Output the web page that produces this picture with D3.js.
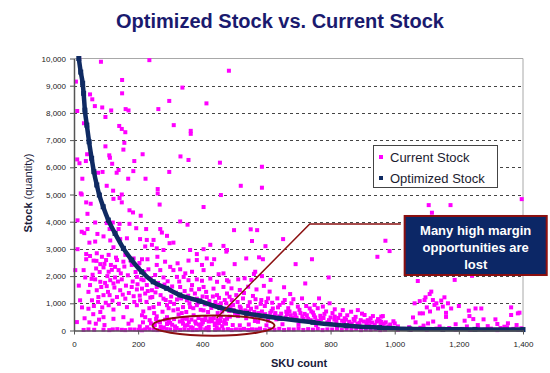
<!DOCTYPE html>
<html><head><meta charset="utf-8">
<script src="https://cdn.jsdelivr.net/npm/d3@7"></script>
<style>
body{margin:0;background:#fff}
svg{display:block;font-family:"Liberation Sans",Arial,sans-serif}
</style>
</head><body><svg id="chart" width="550" height="373"></svg>
<script>
const chartTitle = "Optimized Stock vs. Current Stock";
const xTitle = "SKU count";
const yTitleBold = "Stock";
const yTitleNormal = " (quantity)";
const seriesNames = ["Current Stock", "Optimized Stock"];
const xTicks = [0, 200, 400, 600, 800, 1000, 1200, 1400];
const yTicks = [0, 1000, 2000, 3000, 4000, 5000, 6000, 7000, 8000, 9000, 10000];
const calloutLines = ["Many high margin", "opportunities are", "lost"];

// Optimized Stock (sorted, descending)
const optimizedSku = [15, 21, 27, 30, 34, 40, 47, 55, 62, 71, 79, 91, 107, 128, 154, 180, 211, 247, 289, 330, 392, 455, 538, 642, 745, 849, 953, 1047, 1150, 1250, 1400];
const optimizedQty = [10000, 9500, 9090, 8720, 8100, 7550, 6940, 6330, 5840, 5350, 4980, 4550, 4060, 3570, 3020, 2590, 2160, 1790, 1550, 1305, 1085, 840, 630, 450, 300, 175, 105, 55, 45, 40, 35];

// Current Stock: [SKU, quantity]
const currentPoints = [
[16,10000],[84,9880],[235,9940],[483,9550],[6,9150],[150,9210],[338,8930],[50,8680],[57,8500],[150,8720],[297,8440],[413,8350],[65,8250],[88,8200],[116,8090],[161,8140],[170,8090],[263,8140],[10,8070],[98,7850],[31,7620],[141,7520],[149,7410],[160,7290],[311,7550],[364,7340],[364,7230],[157,6900],[98,6770],[154,6650],[41,6480],[110,6440],[214,6480],[332,6400],[10,6290],[37,6230],[17,6150],[112,6350],[119,6130],[188,6230],[357,6270],[455,6170],[89,5830],[75,5800],[139,5900],[133,5800],[185,5860],[297,5830],[26,5580],[169,5580],[223,5580],[102,5320],[261,5200],[261,5040],[122,5140],[21,5040],[458,4980],[520,5320],
[586,6020],[586,5250],[1396,4830],[1106,4610],[1174,4610],[1116,4330],[971,3300],[984,2920],[946,2710],[1241,2010],
[24,5000],[149,5000],[38,4710],[52,4660],[123,4840],[142,4870],[149,4710],[267,4630],[404,4540],[42,4290],[173,4420],[184,4340],[208,4220],[11,4050],[66,3970],[102,3950],[121,3970],[142,3920],[173,3920],[331,4010],[354,3890],[32,3580],[42,3730],[73,3550],[111,3730],[139,3730],[194,3760],[225,3730],[269,3730],[274,3600],[48,3230],[66,3270],[92,3460],[113,3310],[144,3360],[165,3390],[206,3360],[227,3330],[248,3330],[290,3480],[298,3210],[310,3230],[425,3150],[466,3110],[11,2990],[38,2810],[50,2740],[71,2840],[87,2710],[108,2780],[123,3060],[160,2780],[222,3090],[243,3150],[258,3020],[279,2960],[362,2960],[383,2810],[404,2990],[38,2620],[61,2570],[82,2440],[100,2590],[115,2410],[134,2590],[154,2530],[186,2650],[212,2620],[229,2620],[260,2710],[284,2530],[323,2470],[357,2570],[383,2590],[414,2650],[437,2620],[477,2960],[30,2220],[69,2280],[92,2320],[108,2160],[128,2340],[139,2220],[180,2410],[201,2320],[232,2250],[258,2410],[269,2220],[300,2340],[310,2220],[331,2250],[347,2100],[368,2160],[399,2410],[404,2220],[430,2440],[451,2070],[466,2100],[66,1880],[82,1790],[97,1750],[113,1850],[128,1950],[149,1880],[196,1970],[217,1850],[246,1790],[253,2040],[279,1950],[321,1970],[342,1970],[357,1850],[383,1880],[399,1830],[425,1910],[446,1790],[477,1850],[50,1670],[71,1480],[102,1630],[123,1730],[144,1480],[180,1600],[196,1510],[212,1540],[227,1670],[243,1480],[258,1600],[300,1480],[331,1600],[368,1670],[404,1600],[435,1540],[466,1600],[56,1110],[76,1230],[92,1300],[111,1300],[134,1230],[160,1170],[186,1260],[206,1110],[222,1360],[238,1210],[279,1170],[300,1050],[321,1140],[352,1110],[383,1170],[414,1230],[446,1300],[477,1360],[45,800],[82,680],[108,930],[123,770],[165,860],[196,930],[212,560],[248,860],[290,930],[310,740],[336,640],[362,860],[383,930],[404,740],[446,930],[477,800],[92,490],[123,430],[154,490],[180,370],[222,490],[258,520],[290,490],[326,590],[352,430],[373,560],[399,400],[425,430],[456,350],[477,430],
[63,25],[92,30],[121,40],[149,25],[175,40],[201,25],[222,40],[248,25],[274,30],[300,40],[331,25],[357,30],[383,25],[409,40],[440,25],[466,30],
[4,2220],[19,1110],[9,310],[24,3630],
[170,250],[240,260],[290,240],[340,250],[390,220],[440,260],[408,386],[439,200],[470,380],[517,190],[564,350],[315,150],[365,120],[420,130],[270,140],
[499,3690],[551,3720],[571,3690],[555,3290],[652,3360],[597,3100],[475,2900],[537,2650],[577,2690],[589,2620],[501,2440],[691,2440],[742,2620],[565,2160],[561,2080],[482,1800],[512,1880],[532,1920],[553,1860],[586,2000],[613,1860],[721,1730],[794,1950],[655,1590],[491,1550],[517,1490],[543,1610],[569,1510],[592,1640],[610,1430],[674,1340],[485,1240],[506,1300],[527,1180],[558,1270],[584,1120],[605,1180],[634,1180],[657,1120],[711,1180],[764,1180],[797,1000],[475,1000],[496,940],[517,880],[543,900],[569,850],[595,900],[620,810],[641,940],[678,1000],[698,880],[735,810],[750,940],[776,880],[813,780],[838,750],[864,690],[885,750],[906,570],[932,530],[958,510],[662,690],[688,630],[719,610],[745,660],[781,610],[813,510],[844,450],[875,360],[921,330],[953,360],[486,510],[511,530],[537,450],[574,320],[605,360],[631,410],
[480,50],[505,40],[530,60],[555,45],[580,70],[610,50],[640,60],[670,45],[700,70],[730,50],[760,60],[790,40],[820,55],[850,45],[880,60],[910,40],[940,50],[970,35],
[495,200],[545,220],[600,190],[650,230],[700,210],[755,200],[800,230],[860,200],[920,190],
[1072,1820],[1187,1860],[1114,1430],[1109,1340],[1096,1220],[1093,1120],[1078,1080],[1062,1000],[1119,1120],[1124,940],[1145,1100],[1155,1220],[1166,1000],[1176,810],[1150,880],[1135,810],[1200,900],[1078,630],[1088,630],[1057,480],[1231,730],[1233,530],[1252,810],[1270,810],[1277,410],[1314,410],[1363,850],[1384,630],[1218,360],[1259,200],[1104,260],[1342,140],[963,530],[958,320],[1000,260],[961,200],
[990,80],[1030,60],[1080,100],[1130,70],[1170,90],[1210,60],[1260,80],[1300,70],[1330,90],[1370,60],[1395,80],
[1363,570],[1389,655],[1353,265],
[35,1950],[45,1420],[58,2050],[62,900],[70,2560],[75,1050],[80,2150],[85,1600],[95,2450],[99,1020],[104,2000],[106,1420],[118,2230],[120,1100],[126,1580],[131,2680],[137,1800],[140,980],[146,2100],[152,1320],[157,2350],[162,1650],[168,2030],[171,1380],[176,2580],[183,1800],[188,1050],[192,2150],[198,1700],[204,2480],
[205,1280],[210,1880],[216,700],[219,2150],[226,1050],[230,1450],[235,820],[239,1920],[244,1230],[250,640],[254,1400],[262,1750],[265,980],[270,1300],[276,690],[282,1690],[286,1120],[292,1810],[295,820],[303,1250],[306,1620],[312,980],[318,1390],[324,780],[328,1800],[334,1180],[340,860],[345,1450],[350,680],[356,1280],[360,1000],[366,1500],[372,820],[377,1360],[386,1020],[390,1520],[395,760],[401,1250],[408,960],[412,1420],[418,680],[422,1080],[428,830],[433,1250],[441,1050],[448,640],[452,1200],[458,1000],[462,700],[470,1120],
[205,150],[215,300],[228,120],[236,380],[252,200],[262,330],[280,110],[296,350],[306,210],[320,90],[338,380],[346,180],[358,310],[370,90],[380,250],[394,150],[402,300],[414,90],[430,340],[445,120],[452,270],[462,160],[474,250],
[484,720],[492,1120],[502,650],[510,1050],[522,700],[530,1380],[540,610],[548,1040],[556,560],[566,1150],[575,640],[582,980],[590,520],[600,1050],[612,650],[618,1020],[626,560],[636,850],[646,620],[652,1020],[660,480],[668,820],[676,560],[684,1150],[694,470],[703,760],[712,520],[724,900],[730,430],[740,700],[752,480],[760,820],[770,420],[786,700],[795,380],[806,640],[818,330],[830,580],[842,300],[852,560],[866,260],[878,500],[890,280],[898,620],[912,250],[925,450],[938,210],[948,420],[966,250],[980,150],
[1010,150],[1045,120],[1065,300],[1090,180],[1120,330],[1140,150],[1160,500],[1190,230],[1225,150],[1245,420],[1290,160],[1320,240],[1350,120],[1380,200],[1110,700],[1130,1000],[1160,650],[1100,850],
[30,20],[45,40],[110,15],[135,50],[160,15],[188,35],[212,10],[235,45],[260,15],[288,50],[315,10],[344,45],[370,15],[395,50],[420,15],[452,45],[492,15],[518,30],[543,20],[568,35],[595,15],[625,30],[655,20],[685,35],[715,20],[745,30],[775,15],[805,35],[835,20],[865,30],[895,15],[925,30],[955,15],[1010,30],[1050,20],[1100,30],[1150,20],[1190,35],[1235,20],[1280,30],[1320,15],[1350,40],[1385,25],
[15,1650],[25,850],[33,450],[48,300],[55,1900],[60,600],[68,250],[78,400],[88,850],[95,200],
[488,880],[498,760],[508,620],[520,820],[534,740],[546,700],[552,800],[562,680],[572,560],[586,700],[596,600],[606,480],[616,720],[628,640],[640,520],[650,420],[664,600],[672,700],[682,460],[690,560],[706,640],[716,420],[726,560],[738,380],[748,560],[758,360],[768,540],[778,460],[790,300],[800,480],[812,400],[824,460],[836,360],[848,400],[858,320],[872,420],[884,240],[894,380],[904,330],[916,380],[930,290],[944,330],[956,250],[972,300],[986,220],[996,340],
[256,420],[268,300],[284,400],[300,280],[312,420],[330,330],[344,440],[354,200],[366,400],[378,330],[388,460],[398,230],[410,460],[420,330],[436,450],[448,380],[458,500],[468,300]
];

// Annotation anchors (data units)
const ellipseCenter = [435, 180];
const ellipseRadii = [190, 370];
const leaderPoints = [[445, 460], [735, 3915], [1019, 3915]];
const calloutBox = {x0: 1031, x1: 1474, y0: 4210, y1: 2040};

const colors = {current: "#ff00ff", optimized: "#0f2a62", title: "#1a1a6e", annot: "#8b1010", box: "#0c2766"};

const svg = d3.select("#chart");
const x = d3.scaleLinear().domain([0, 1400]).range([74, 523]);
const y = d3.scaleLinear().domain([0, 10000]).range([330.5, 58.5]);

// title
svg.append("text").attr("x", 280).attr("y", 27.5).attr("text-anchor", "middle")
  .attr("font-size", 20).attr("font-weight", "bold").attr("fill", colors.title).text(chartTitle);

// gridlines
svg.append("g").selectAll("line").data(yTicks.filter(d => d > 0 && d < 10000)).join("line")
  .attr("x1", x(0)).attr("x2", x(1400)).attr("y1", d => Math.round(y(d)) + 0.5).attr("y2", d => Math.round(y(d)) + 0.5)
  .attr("stroke", "#444").attr("stroke-width", 1).attr("stroke-dasharray", "3,3");

// frame (top and right)
svg.append("line").attr("x1", x(0)).attr("x2", x(1400)).attr("y1", y(10000)).attr("y2", y(10000)).attr("stroke", "#a8a8a8");
svg.append("line").attr("x1", x(1400)).attr("x2", x(1400)).attr("y1", y(10000)).attr("y2", y(0)).attr("stroke", "#a8a8a8");

// current stock points
const ms = 4;
svg.append("g").selectAll("rect").data(currentPoints).join("rect")
  .attr("x", d => x(d[0]) - ms / 2).attr("y", d => y(d[1]) - ms / 2)
  .attr("width", ms).attr("height", ms).attr("fill", colors.current);

// optimized stock
const opt = optimizedSku.map((s, i) => [s, optimizedQty[i]]);
svg.append("path").datum(opt)
  .attr("d", d3.line().x(d => x(d[0])).y(d => y(d[1])).curve(d3.curveMonotoneX))
  .attr("fill", "none").attr("stroke", colors.optimized).attr("stroke-width", 4.5);
svg.append("g").selectAll("rect").data(opt).join("rect")
  .attr("x", d => x(d[0]) - 2.5).attr("y", d => y(d[1]) - 2.5)
  .attr("width", 5).attr("height", 5).attr("fill", colors.optimized);

// axes
const fmt = d3.format(",");
const yAxis = svg.append("g").attr("transform", `translate(${x(0)},0)`)
  .call(d3.axisLeft(y).tickValues(yTicks).tickFormat(fmt).tickSize(4).tickSizeOuter(0).tickPadding(4));
const xAxis = svg.append("g").attr("transform", `translate(0,${y(0)})`)
  .call(d3.axisBottom(x).tickValues(xTicks).tickFormat(fmt).tickSize(4).tickSizeOuter(0).tickPadding(7));
[yAxis, xAxis].forEach(g => {
  g.attr("font-family", null).attr("font-size", null);
  g.select(".domain").attr("stroke", "#555").attr("stroke-width", 1.5);
  g.selectAll(".tick line").attr("stroke", "#555");
  g.selectAll(".tick text").attr("font-size", 8).attr("fill", "#222");
});

// axis titles
svg.append("text").attr("x", 299).attr("y", 367).attr("text-anchor", "middle")
  .attr("font-size", 11).attr("font-weight", "bold").attr("fill", "#1a1a3a").text(xTitle);
const yt = svg.append("text").attr("transform", "translate(32,193) rotate(-90)")
  .attr("text-anchor", "middle").attr("font-size", 11).attr("fill", "#1a1a3a");
yt.append("tspan").attr("font-weight", "bold").text(yTitleBold);
yt.append("tspan").text(yTitleNormal);

// legend
const lg = svg.append("g").attr("transform", "translate(373,145)");
lg.append("rect").attr("x", 0.5).attr("y", 0.5).attr("width", 124).attr("height", 42)
  .attr("fill", "#fff").attr("stroke", "#444");
const legendColors = [colors.current, colors.optimized];
seriesNames.forEach((n, i) => {
  lg.append("rect").attr("x", 6).attr("y", 10 + i * 21).attr("width", 4).attr("height", 4).attr("fill", legendColors[i]);
  lg.append("text").attr("x", 17).attr("y", 16.5 + i * 21).attr("font-size", 13).attr("fill", "#1c1c30").text(n);
});

// annotation ellipse
svg.append("ellipse")
  .attr("cx", x(ellipseCenter[0])).attr("cy", y(ellipseCenter[1]))
  .attr("rx", x(ellipseRadii[0]) - x(0)).attr("ry", y(0) - y(ellipseRadii[1]))
  .attr("fill", "none").attr("stroke", colors.annot).attr("stroke-width", 2);

// leader line
svg.append("path").datum(leaderPoints)
  .attr("d", d3.line().x(d => x(d[0])).y(d => y(d[1])))
  .attr("fill", "none").attr("stroke", colors.annot).attr("stroke-width", 1.5);

// callout box
const bx0 = x(calloutBox.x0), bx1 = x(calloutBox.x1), by0 = y(calloutBox.y0), by1 = y(calloutBox.y1);
svg.append("rect").attr("x", bx0).attr("y", by0).attr("width", bx1 - bx0).attr("height", by1 - by0)
  .attr("fill", colors.box).attr("stroke", colors.annot).attr("stroke-width", 2);
svg.append("g").selectAll("text").data(calloutLines).join("text")
  .attr("x", (bx0 + bx1) / 2).attr("y", (d, i) => by0 + 19 + i * 17)
  .attr("text-anchor", "middle").attr("font-size", 13).attr("font-weight", "bold").attr("fill", "#fff")
  .text(d => d);
</script>
</body></html>
